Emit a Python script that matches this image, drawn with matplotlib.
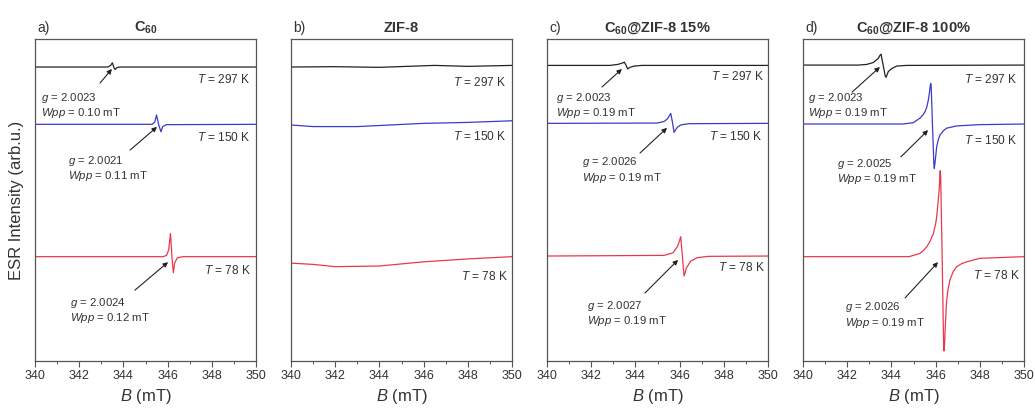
import matplotlib
matplotlib.use("Agg")
import matplotlib.pyplot as plt

plt.rcParams['font.family'] = ['Liberation Sans', 'DejaVu Sans']
plt.rcParams['mathtext.fontset'] = 'custom'
plt.rcParams['mathtext.rm'] = 'Liberation Sans'
plt.rcParams['mathtext.it'] = 'Liberation Sans:italic'
plt.rcParams['mathtext.bf'] = 'Liberation Sans:bold'

# ---------------- data (B in mT, intensity in arb. units, stacked) ----------------
# Panel a) C60
a_297_B = [340, 343.3, 343.42, 343.5, 343.58, 343.63, 343.7, 343.85, 350]
a_297_I = [91.3, 91.3, 91.8, 92.6, 91.0, 90.5, 91.1, 91.3, 91.3]
a_150_B = [340, 345.3, 345.42, 345.5, 345.6, 345.7, 345.78, 345.95, 350]
a_150_I = [73.5, 73.5, 74.2, 76.4, 73.3, 71.2, 72.8, 73.4, 73.5]
a_78_B = [340, 345.8, 345.95, 346.05, 346.13, 346.2, 346.26, 346.32, 346.45, 346.7, 350]
a_78_I = [32.4, 32.4, 32.8, 34.5, 39.6, 32.0, 27.4, 30.5, 32.1, 32.4, 32.4]

# Panel b) ZIF-8
b_297_B = [340, 342, 344, 346.5, 348, 350]
b_297_I = [91.3, 91.4, 91.2, 91.8, 91.5, 91.8]
b_150_B = [340, 341, 343, 346, 348, 350]
b_150_I = [73.3, 72.8, 72.8, 73.8, 74.1, 74.6]
b_78_B = [340, 341, 342, 344, 346, 348, 350]
b_78_I = [30.4, 30.0, 29.3, 29.5, 30.8, 31.7, 32.4]

# Panel c) C60@ZIF-8 15%
c_297_B = [340, 342.85, 343.2, 343.4, 343.5, 343.58, 343.65, 343.75, 343.95, 344.3, 350]
c_297_I = [91.8, 91.8, 92.1, 92.5, 92.8, 91.8, 90.7, 91.2, 91.6, 91.8, 91.8]
c_150_B = [340, 345.0, 345.3, 345.45, 345.55, 345.6, 345.68, 345.75, 345.8, 345.9, 346.05, 346.4, 350]
c_150_I = [73.8, 73.9, 74.4, 75.2, 76.3, 76.9, 74.0, 71.0, 71.6, 72.6, 73.3, 73.7, 73.8]
c_78_B = [340, 345.3, 345.7, 345.9, 345.98, 346.05, 346.12, 346.2, 346.25, 346.3, 346.5, 346.8, 347.3, 350]
c_78_I = [32.6, 32.8, 33.6, 35.5, 37.0, 38.6, 33.0, 26.4, 27.4, 28.8, 31.0, 32.1, 32.5, 32.6]

# Panel d) C60@ZIF-8 100%
d_297_B = [340, 342.5, 342.88, 343.18, 343.41, 343.48, 343.53, 343.64, 343.72, 343.76, 343.86,
           344.01, 344.24, 344.69, 350]
d_297_I = [91.9, 91.9, 92.1, 92.7, 94.0, 94.9, 95.3, 91.4, 88.5, 88.1, 89.9,
           90.8, 91.6, 91.8, 91.9]
d_150_B = [340, 344.5, 344.99, 345.29, 345.45, 345.52, 345.6, 345.67, 345.72, 345.76, 345.78,
           345.8, 345.86, 345.92, 345.94, 345.97, 346.05, 346.12, 346.2, 346.35, 346.5, 346.95,
           348.0, 350]
d_150_I = [73.6, 73.6, 74.0, 75.4, 76.6, 77.4, 78.8, 81.0, 83.3, 85.6, 86.2,
           85.3, 73.0, 61.5, 59.8, 61.3, 66.6, 68.7, 70.2, 71.5, 72.3, 73.0,
           73.4, 73.6]
d_78_B = [340, 344.8, 345.29, 345.45, 345.6, 345.75, 345.9, 346.0, 346.05, 346.1, 346.14, 346.17,
          346.19, 346.21, 346.23, 346.3, 346.36, 346.38, 346.4, 346.44, 346.5, 346.57, 346.65,
          346.8, 346.95, 347.2, 347.41, 348.0, 350]
d_78_I = [32.4, 32.4, 33.4, 34.3, 35.5, 37.2, 39.6, 42.5, 44.8, 48.5, 51.5, 54.1,
          57.5, 59.1, 57.0, 31.0, 6.0, 3.1, 4.5, 11.0, 18.9, 22.5, 25.2,
          27.8, 29.3, 30.3, 30.8, 31.9, 32.4]

panel_letters = ['a)', 'b)', 'c)', 'd)']
panel_titles = [r'C$_{\mathbf{60}}$', 'ZIF-8', r'C$_{\mathbf{60}}$@ZIF-8 15%', r'C$_{\mathbf{60}}$@ZIF-8 100%']
temp_labels = [r'$T$ = 297 K', r'$T$ = 150 K', r'$T$ = 78 K']
g_values = [['2.0023', '2.0021', '2.0024'], None,
            ['2.0023', '2.0026', '2.0027'], ['2.0023', '2.0025', '2.0026']]
wpp_values = [['0.10', '0.11', '0.12'], None,
              ['0.19', '0.19', '0.19'], ['0.19', '0.19', '0.19']]

spectra = [
    [(a_297_B, a_297_I), (a_150_B, a_150_I), (a_78_B, a_78_I)],
    [(b_297_B, b_297_I), (b_150_B, b_150_I), (b_78_B, b_78_I)],
    [(c_297_B, c_297_I), (c_150_B, c_150_I), (c_78_B, c_78_I)],
    [(d_297_B, d_297_I), (d_150_B, d_150_I), (d_78_B, d_78_I)],
]

# ---------------- layout / style ----------------
W, H = 1035, 408
line_colors = ['#222222', '#3b3bc8', '#e8394a']
text_color = '#333333'
axes_left_px = [35, 291, 547, 803]
axes_w_px, top_px, bottom_px = 221, 39, 361
ann_fs = 8.2

# temperature label positions (x right edge, y) in data coords
temp_pos = [
    [(349.77, 87.3), (349.77, 69.3), (349.77, 28.0)],
    [(349.77, 86.6), (349.77, 69.6), (349.82, 26.1)],
    [(349.86, 88.2), (349.77, 69.6), (349.86, 28.9)],
    [(349.73, 87.3), (349.73, 68.6), (349.82, 26.4)],
]
# annotation text (left x, y line1, y line2), arrow start, arrow end
ann_pos = [
    [((340.27, 81.8, 77.0), (342.94, 86.3), (343.48, 90.7)),
     ((341.49, 62.2, 57.4), (344.30, 65.5), (345.52, 72.7)),
     ((341.58, 18.1, 13.3), (344.52, 22.0), (346.02, 30.7))],
    None,
    [((340.41, 81.8, 77.0), (342.49, 85.1), (343.39, 90.7)),
     ((341.58, 61.7, 56.9), (344.21, 64.6), (345.43, 72.4)),
     ((341.81, 17.1, 12.3), (344.43, 21.1), (345.93, 31.4))],
    [((340.23, 81.8, 77.0), (342.22, 83.5), (343.48, 91.3)),
     ((341.54, 61.3, 56.5), (344.43, 63.4), (345.66, 71.7)),
     ((341.90, 16.7, 11.9), (344.62, 19.6), (346.11, 30.7))],
]

fig = plt.figure(figsize=(W / 100, H / 100), dpi=100)

for p in range(4):
    l = axes_left_px[p]
    ax = fig.add_axes([l / W, (H - bottom_px) / H, axes_w_px / W, (bottom_px - top_px) / H])
    for k, (bx, iy) in enumerate(spectra[p]):
        ax.plot(bx, iy, color=line_colors[k], lw=0.9)
    ax.set_xlim(340, 350)
    ax.set_ylim(0, 100)
    ax.set_xticks([340, 342, 344, 346, 348, 350])
    ax.set_xticks([341, 343, 345, 347, 349], minor=True)
    ax.set_yticks([])
    ax.tick_params(axis='x', which='major', direction='out', length=4, width=0.8,
                   colors='#555555', labelcolor=text_color, labelsize=9, pad=2.5)
    ax.tick_params(axis='x', which='minor', direction='out', length=2.5, width=0.7, colors='#555555')
    for s in ax.spines.values():
        s.set_color('#555555')
        s.set_linewidth(0.9)

    for k in range(3):
        tx, ty = temp_pos[p][k]
        ax.text(tx, ty, temp_labels[k], ha='right', va='center', fontsize=8.6, color=text_color)

    if ann_pos[p] is not None:
        for k in range(3):
            (xl, y1, y2), start, end = ann_pos[p][k]
            ax.text(xl, y1, r'$g$ = ' + g_values[p][k], ha='left', va='center',
                    fontsize=ann_fs, color=text_color)
            ax.text(xl, y2, r'$Wpp$ = ' + wpp_values[p][k] + ' mT', ha='left', va='center',
                    fontsize=ann_fs, color=text_color)
            ax.annotate('', xy=end, xytext=start,
                        arrowprops=dict(arrowstyle='-|>', color='#222222', lw=0.8,
                                        mutation_scale=7, shrinkA=0, shrinkB=0))

    cx = (l + axes_w_px / 2) / W
    fig.text((l + 2) / W, 1 - 28 / H, panel_letters[p], ha='left', va='center', fontsize=10, color=text_color)
    fig.text(cx, 1 - 28 / H, panel_titles[p], ha='center', va='center', fontsize=10.5,
             fontweight='bold', color=text_color)
    fig.text(cx, 1 - 397 / H, r'$B$ (mT)', ha='center', va='center', fontsize=12, color=text_color)

fig.text(17 / W, 1 - 200 / H, 'ESR Intensity (arb.u.)', rotation=90, ha='center', va='center',
         fontsize=12, color=text_color)

fig.savefig('out.png', dpi=100)
